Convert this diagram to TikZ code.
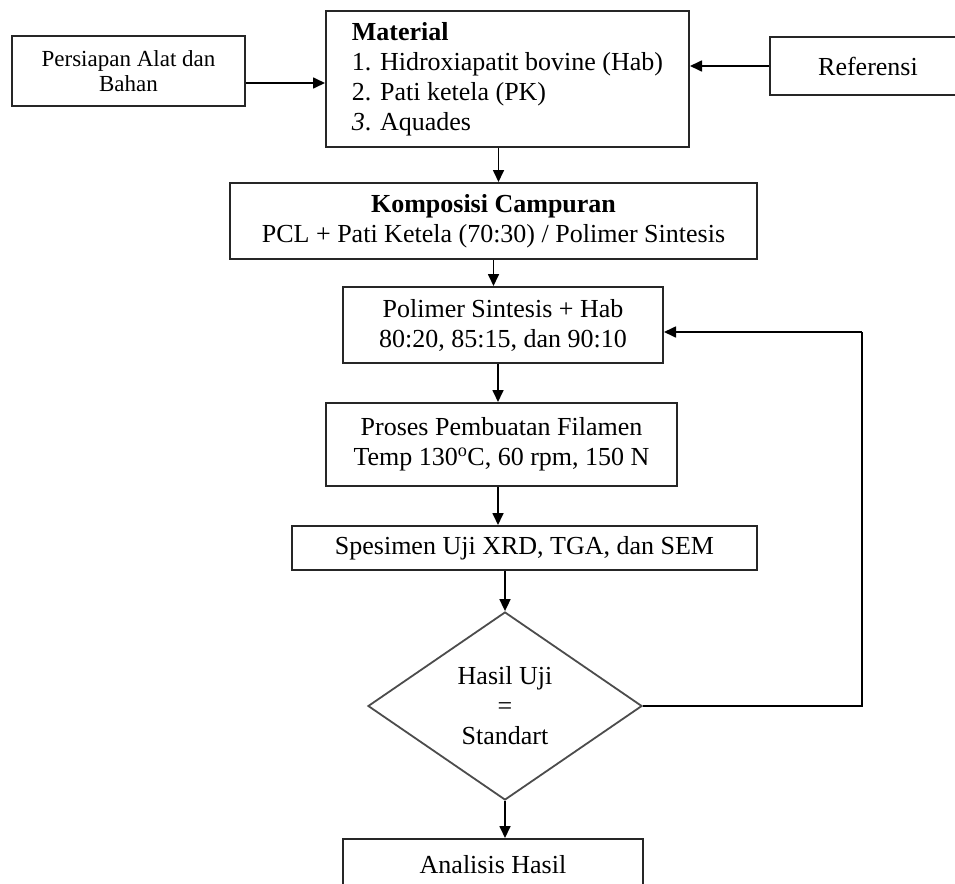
\documentclass[tikz,border=0pt]{standalone}
\usepackage{fontspec}
\setmainfont{Liberation Serif}
\usetikzlibrary{shapes.geometric,arrows.meta}

\begin{document}
\begin{tikzpicture}[x=1pt, y=-1pt,
    font=\fontsize{26}{30}\selectfont,
    box/.style={draw=black!85, line width=2pt, align=center, inner sep=0pt},
    cekbox/.style={draw=black!70, line width=1.8pt, diamond, aspect=1.46,
      inner sep=0pt, align=center, minimum width=274pt, minimum height=188pt},
    alur/.style={line width=1.7pt, -{Triangle[length=12pt,width=11pt]}},
    garis/.style={line width=1.7pt}]

  % Page size
  \useasboundingbox (0,0) rectangle (955,883);
  \clip (0,0) rectangle (955,883);

  % Top row
  \node[box, minimum width=233pt, minimum height=70pt,
        font=\fontsize{23}{25}\selectfont] (persiapan) at (128.5,71)
        {Persiapan Alat dan\\Bahan};
  \node[box, align=left, minimum width=363pt, minimum height=136pt] (material) at (507.5,79)
        {\textbf{Material}\\1. Hidroxiapatit bovine (Hab)\\2. Pati ketela (PK)\\\textit{3}. Aquades};
  \node[box, minimum width=196pt, minimum height=58pt] (referensi) at (868,66) {Referensi};

  % Main column
  \node[box, minimum width=527pt, minimum height=76pt] (komposisi) at (493.5,221)
        {\textbf{Komposisi Campuran}\\PCL + Pati Ketela (70:30) / Polimer Sintesis};
  \node[box, minimum width=320pt, minimum height=76pt] (polimer) at (503,325)
        {Polimer Sintesis + Hab\\80:20, 85:15, dan 90:10};
  \node[box, minimum width=351pt, minimum height=83pt] (proses) at (501.5,444.5)
        {Proses Pembuatan Filamen\\Temp 130\textsuperscript{o}C, 60 rpm, 150 N};
  \node[box, minimum width=465pt, minimum height=44pt] (spesimen) at (524.5,548)
        {Spesimen Uji XRD, TGA, dan SEM};
  \node[cekbox] (cek) at (505,706) {Hasil Uji\\=\\Standart};
  \node[box, minimum width=300pt, minimum height=52pt] (analisis) at (493,865)
        {Analisis Hasil};

  % Return path
  \coordinate (balik) at (862,332);

  % Connectors
  \draw[alur] ([yshift=-12pt]persiapan.east) -- ([yshift=-12pt]persiapan.east -| material.west);
  \draw[alur] (referensi.west) -- (referensi.west -| material.east);
  \draw[alur] ([xshift=-9pt]material.south) -- ([xshift=-9pt]material.south |- komposisi.north);
  \draw[alur] (komposisi.south) -- (komposisi.south |- polimer.north);
  \draw[alur] ([xshift=-5pt]polimer.south) -- ([xshift=-5pt]polimer.south |- proses.north);
  \draw[alur] ([xshift=-3.5pt]proses.south) -- ([xshift=-3.5pt]proses.south |- spesimen.north);
  \draw[alur] (cek.north |- spesimen.south) -- (cek.north);
  \draw[alur] (cek.south) -- (cek.south |- analisis.north);
  \draw[garis] (cek.east) -| (balik);
  \draw[alur] (balik) -- (balik -| polimer.east);

\end{tikzpicture}
\end{document}
